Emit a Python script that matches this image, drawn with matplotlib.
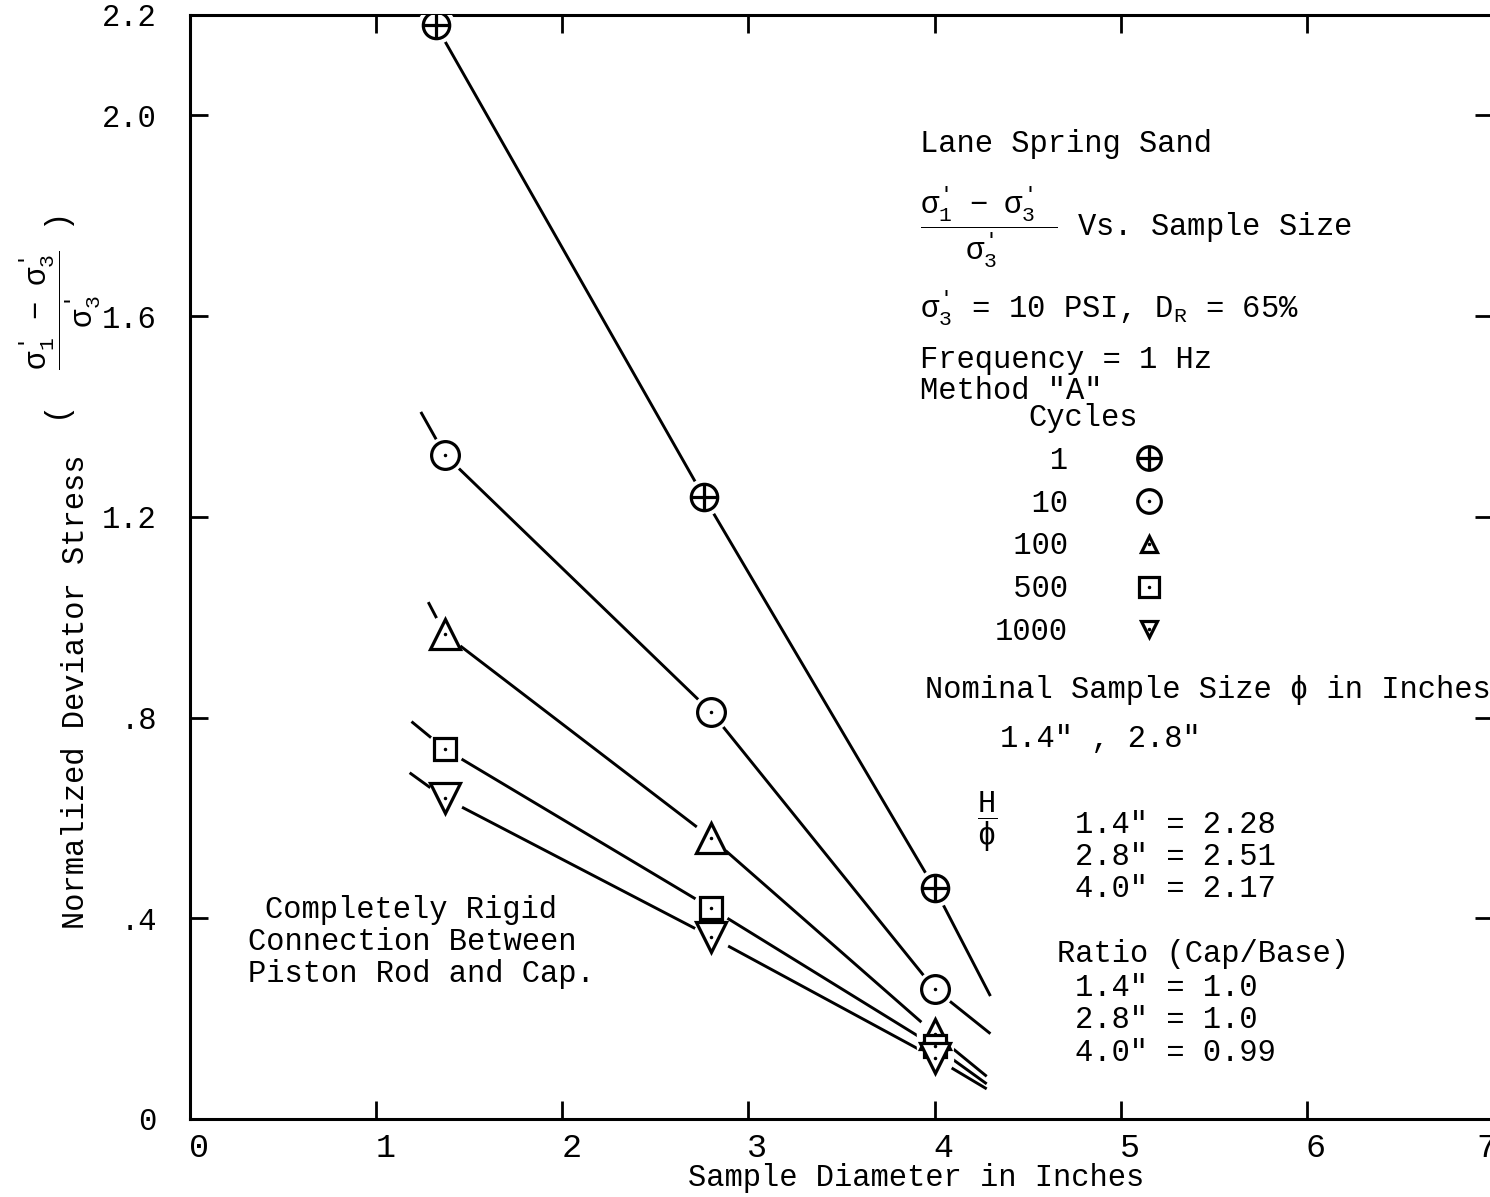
import matplotlib
matplotlib.use("Agg")
import matplotlib.pyplot as plt
import matplotlib.transforms as mtransforms
from matplotlib.lines import Line2D

plt.rcParams['font.family'] = ['Liberation Mono', 'DejaVu Sans Mono']
plt.rcParams['mathtext.fontset'] = 'custom'
plt.rcParams['mathtext.rm'] = 'Liberation Mono'
plt.rcParams['mathtext.it'] = 'Liberation Mono'
plt.rcParams['mathtext.bf'] = 'Liberation Mono:bold'

# sample diameter (in) vs normalized deviator stress, one series per cycle count
cycles = ['1', '10', '100', '500', '1000']
diam_1 = [1.32, 2.76, 4.0]
diam = [1.37, 2.8, 4.0]
stress_1 = [2.18, 1.24, 0.46]
stress_10 = [1.323, 0.811, 0.259]
stress_100 = [0.966, 0.56, 0.17]
stress_500 = [0.737, 0.42, 0.145]
stress_1000 = [0.639, 0.363, 0.122]

# ends of the hand-drawn trend lines
trend_x0 = [1.32, 1.24, 1.28, 1.19, 1.18]
trend_y0 = [2.18, 1.409, 1.03, 0.792, 0.69]
trend_x1 = [4.3, 4.3, 4.28, 4.28, 4.28]
trend_y1 = [0.245, 0.17, 0.085, 0.07, 0.06]

xticks = [0, 1, 2, 3, 4, 5, 6, 7]
yticks = [0, 0.4, 0.8, 1.2, 1.6, 2.0, 2.2]
ylabels = ['0', '.4', '.8', '1.2', '1.6', '2.0', '2.2']

hd_ratio = ['1.4" = 2.28', '2.8" = 2.51', '4.0" = 2.17']
cap_base = ['1.4" = 1.0', '2.8" = 1.0', '4.0" = 0.99']
note = ['Completely Rigid', 'Connection Between', 'Piston Rod and Cap.']

series = [
    (diam_1, stress_1, 'o', '+', 19),
    (diam, stress_10, 'o', '.', 20),
    (diam, stress_100, '^', '.', 21),
    (diam, stress_500, 's', '.', 16),
    (diam, stress_1000, 'v', '.', 21),
]

W, H = 1490, 1197
fig = plt.figure(figsize=(W / 100, H / 100), dpi=100)
ax = fig.add_axes([190 / W, (H - 1119) / H, 1303 / W, 1104 / H])


def px(x, y):
    return x / W, 1 - y / H


lw = 2.1
for i, (xs, ys, mk, inner, ms) in enumerate(series):
    lx = [trend_x0[i]] + list(xs) + [trend_x1[i]]
    ly = [trend_y0[i]] + list(ys) + [trend_y1[i]]
    ax.plot(lx, ly, color='black', lw=lw, zorder=2, solid_capstyle='butt')
    # white halo so the line stops short of each symbol
    ax.plot(xs, ys, ls='none', marker='o', ms=27, mfc='white', mec='none', zorder=3)
    ax.plot(xs, ys, ls='none', marker=mk, ms=ms, mfc='white', mec='black',
            mew=2.3, zorder=4)
    if inner == '+':
        ax.plot(xs, ys, ls='none', marker='+', ms=ms, mec='black', mew=2.3, zorder=5)
    else:
        ax.plot(xs, ys, ls='none', marker='.', ms=3, color='black', zorder=5)

ax.set_xlim(0, 7)
ax.set_ylim(0, 2.2)
ax.set_xticks(xticks)
ax.set_xticklabels([str(t) for t in xticks])
ax.set_yticks(yticks)
ax.set_yticklabels(ylabels)
ax.tick_params(direction='in', length=13, width=2, top=True, right=True,
               colors='black')
ax.tick_params(axis='y', pad=24, labelsize=22)
ax.tick_params(axis='x', pad=10, labelsize=24)
ax.spines['right'].set_visible(False)
for s in ('left', 'bottom', 'top'):
    ax.spines[s].set_linewidth(2.2)

# x labels sit a little right of their ticks; the last one is pulled in
xlabs = ax.get_xticklabels()
for lab in xlabs[:-1]:
    lab.set_transform(lab.get_transform() +
                      mtransforms.ScaledTranslation(0.09, 0, fig.dpi_scale_trans))
xlabs[-1].set_transform(xlabs[-1].get_transform() +
                        mtransforms.ScaledTranslation(-0.07, 0, fig.dpi_scale_trans))

ax.set_xlabel('Sample Diameter in Inches', fontsize=22)
ax.xaxis.set_label_coords(0.557, -0.04)

fs = 22
p = r"^{\text{'}}"
ratio = r"\dfrac{\sigma_1%s\ \ -\ \ \sigma_3%s}{\sigma_3%s}" % (p, p, p)

# y axis title in two parts: words, then the stress ratio
fig.text(*px(84, 692), 'Normalized Deviator Stress', rotation=90, fontsize=fs,
         ha='center', va='baseline', rotation_mode='anchor')
fig.text(*px(60, 320), "(  $" + ratio + "$ )",
         rotation=90, fontsize=fs, ha='center', va='center', rotation_mode='anchor')

fig.text(*px(920, 152), 'Lane Spring Sand', fontsize=fs, va='baseline')
fig.text(*px(920, 236),
         r"$\dfrac{\sigma_1%s\ \ -\ \ \sigma_3%s\ \ \ }{\sigma_3%s\ \ }$ Vs. Sample Size"
         % (p, p, p), fontsize=fs, va='baseline')
fig.text(*px(920, 317), r"$\sigma_3%s$ = 10 PSI, D$_R$ = 65%%" % p, fontsize=fs,
         va='baseline')
fig.text(*px(920, 368), 'Frequency = 1 Hz', fontsize=fs, va='baseline')
fig.text(*px(920, 399), 'Method "A"', fontsize=fs, va='baseline')

fig.text(*px(925, 698), 'Nominal Sample Size \u03d5 in Inches', fontsize=fs, va='baseline')
fig.text(*px(1000, 747), '1.4" , 2.8"', fontsize=fs, va='baseline')
fig.text(*px(987, 822), r'$\dfrac{H}{\phi}$', fontsize=fs, ha='center', va='center')
for k, line in enumerate(hd_ratio):
    fig.text(*px(1075, 833 + 32 * k), line, fontsize=fs, va='baseline')
fig.text(*px(1057, 962), 'Ratio (Cap/Base)', fontsize=fs, va='baseline')
for k, line in enumerate(cap_base):
    fig.text(*px(1075, 996 + 32.5 * k), line, fontsize=fs, va='baseline')

fig.text(*px(411, 918), note[0], fontsize=fs, ha='center', va='baseline')
fig.text(*px(248, 950), note[1], fontsize=fs, va='baseline')
fig.text(*px(248, 982), note[2], fontsize=fs, va='baseline')

# cycle key
handles = []
for xs, ys, mk, inner, ms in series:
    small = {'o': 17, '^': 11, 's': 14, 'v': 12}[mk]
    base = Line2D([], [], ls='none', marker=mk, ms=small, mfc='white', mec='black', mew=2.3)
    if inner == '+':
        top = Line2D([], [], ls='none', marker='+', ms=small, mec='black', mew=2.3)
    else:
        top = Line2D([], [], ls='none', marker='.', ms=3, color='black')
    handles.append((base, top))
labels = [c.rjust(4) for c in cycles]
leg = ax.legend(handles, labels, title='Cycles', markerfirst=False, frameon=False,
                fontsize=fs, title_fontsize=fs, loc='upper left',
                bbox_to_anchor=px(995, 403), bbox_transform=fig.transFigure,
                borderpad=0, borderaxespad=0, labelspacing=0.42,
                handlelength=1.5, handletextpad=1.9)

fig.savefig('out.png', dpi=100)
